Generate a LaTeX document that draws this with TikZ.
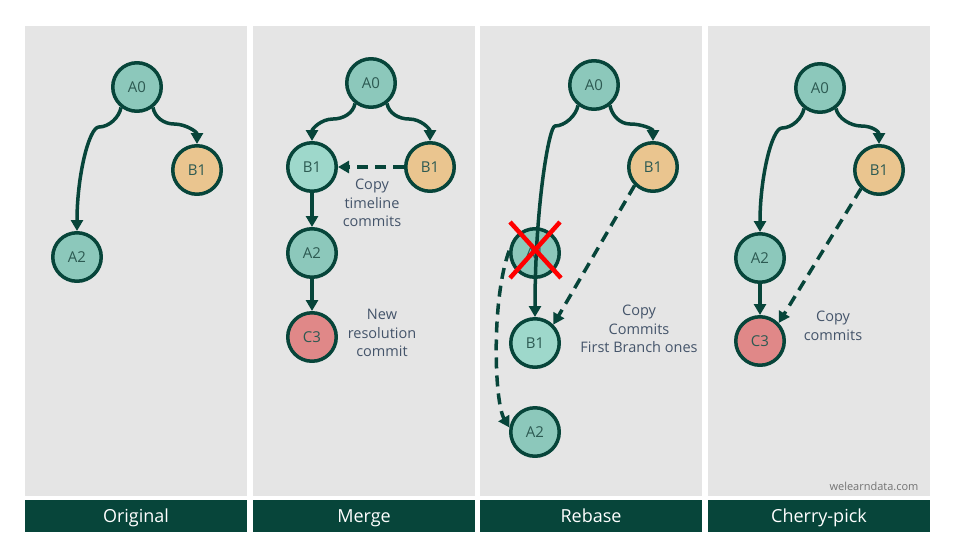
\documentclass[tikz,border=0pt]{standalone}
\usepackage{fontspec}
\setmainfont{Open Sans}
\usetikzlibrary{arrows.meta}
\definecolor{panelgray}{HTML}{E5E5E5}
\definecolor{gitgreen}{HTML}{07453A}
\definecolor{tealfill}{HTML}{8CC8BB}
\definecolor{newfill}{HTML}{9ED8CB}
\definecolor{orangefill}{HTML}{EAC58F}
\definecolor{redfill}{HTML}{E08888}
\definecolor{committext}{HTML}{2D5A52}
\definecolor{notetext}{HTML}{44546A}
\begin{document}
\begin{tikzpicture}[x=1pt, y=1pt, line join=round, >={Triangle[length=11pt,width=12pt]},
  commit/.style={circle, draw=gitgreen, line width=3.5pt, minimum size=48.5pt, inner sep=0pt,
    text=committext, font=\fontsize{15}{18}\selectfont},
  commitA/.style={commit, fill=tealfill},
  commitN/.style={commit, fill=newfill},
  commitB/.style={commit, fill=orangefill},
  commitC/.style={commit, fill=redfill},
  flow/.style={->, draw=gitgreen, line width=3.5pt},
  copyflow/.style={flow, dash pattern=on 11pt off 7pt},
  note/.style={align=center, text=notetext, font=\fontsize{14.5}{18.5}\selectfont},
  footbar/.style={fill=gitgreen, text=white, minimum width=222pt, minimum height=32pt,
    inner sep=0pt, text height=15pt, text depth=2pt, font=\fontsize{18}{20}\selectfont}]
\fill[white] (0,0) rectangle (953,-555);
\useasboundingbox (0,0) rectangle (953,-555);
\foreach \x in {25,253,480,708}
  \fill[panelgray] (\x,-26) rectangle ++(222,-470);

% original
\node[commitA] (oA0) at (137,-87) {A0};
\node[commitB] (oB1) at (197,-170) {B1};
\node[commitA] (oA2) at (77,-257) {A2};
\coordinate (ok1) at (99,-127);
\coordinate (ok2) at (174,-124);
\draw[flow] (oA0.232) .. controls +(-100:10) and +(10,0) .. (ok1)
  .. controls +(-10,0) and +(0,55) .. (oA2.north);
\draw[flow] (oA0.308) .. controls +(-80:10) and +(-10,0) .. (ok2)
  .. controls +(12,0) and +(0,12) .. (oB1.north);

% merge
\node[commitA] (mA0) at (371,-83) {A0};
\node[commitN] (mB1) at (312,-167) {B1};
\node[commitB] (mB1x) at (430,-167) {B1};
\node[commitA] (mA2) at (312,-253) {A2};
\node[commitC] (mC3) at (312,-337) {C3};
\coordinate (mk1) at (333,-119);
\coordinate (mk2) at (409,-119);
\draw[flow] (mA0.232) .. controls +(-100:10) and +(10,0) .. (mk1)
  .. controls +(-12,0) and +(0,12) .. (mB1.north);
\draw[flow] (mA0.308) .. controls +(-80:10) and +(-10,0) .. (mk2)
  .. controls +(12,0) and +(0,12) .. (mB1x.north);
\draw[copyflow] (mB1x) -- (mB1);
\draw[flow] (mB1) -- (mA2);
\draw[flow] (mA2) -- (mC3);
\node[note] (mcopy) at (372,-203) {Copy\\timeline\\commits};
\node[note] (mnew) at (382,-333) {New\\resolution\\commit};

% rebase
\node[commitA] (rA0) at (594,-85) {A0};
\node[commitB] (rB1) at (653,-167) {B1};
\node[commitA] (rA1) at (535,-253) {A1};
\node[commitN] (rB1n) at (535,-343) {B1};
\node[commitA] (rA2) at (535,-432) {A2};
\coordinate (rk1) at (555,-126);
\coordinate (rk2) at (630,-124);
\draw[flow] (rA0.232) .. controls +(-100:10) and +(10,0) .. (rk1)
  .. controls +(-6,0) and +(0,110) .. (rB1n.north);
\draw[flow] (rA0.308) .. controls +(-80:10) and +(-10,0) .. (rk2)
  .. controls +(12,0) and +(0,12) .. (rB1.north);
\draw[copyflow] (rB1.225) -- (rB1n.45);
\draw[copyflow] (rA1.175) .. controls +(-18,-50) and +(-15,25) .. (rA2.170);
\draw[red, line width=4.5pt] (rA1.center) ++(-25,31) -- ++(51,-56)
  (rA1.center) ++(25,31) -- ++(-50,-56);
\node[note] (rcopy) at (639,-329) {Copy\\Commits\\First Branch ones};

% cherry-pick
\node[commitA] (cA0) at (820,-88) {A0};
\node[commitB] (cB1) at (879,-170) {B1};
\node[commitA] (cA2) at (760,-258) {A2};
\node[commitC] (cC3) at (760,-341) {C3};
\coordinate (ck1) at (782,-128);
\coordinate (ck2) at (861,-126);
\draw[flow] (cA0.232) .. controls +(-100:10) and +(10,0) .. (ck1)
  .. controls +(-10,0) and +(0,55) .. (cA2.north);
\draw[flow] (cA0.308) .. controls +(-80:10) and +(-10,0) .. (ck2)
  .. controls +(12,0) and +(0,12) .. (cB1.north);
\draw[flow] (cA2) -- (cC3);
\draw[copyflow] (cB1.226) -- (cC3.44);
\node[note] (ccopy) at (833,-326) {Copy\\commits};

\node[anchor=east, text=black!55, font=\fontsize{11}{13}\selectfont] (mark) at (922,-486) {welearndata.com};
\foreach \n/\x/\t in {fo/136/Original, fm/364/Merge, fr/591/Rebase, fc/819/Cherry-pick}
  \node[footbar] (\n) at (\x,-516) {\t};
\end{tikzpicture}
\end{document}
